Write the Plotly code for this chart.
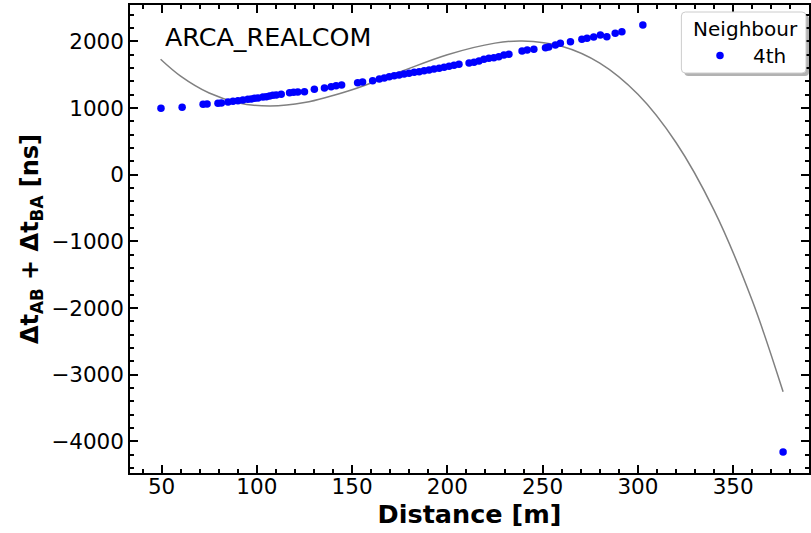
import plotly.graph_objects as go

# Data points (Distance [m], Δt_AB + Δt_BA [ns])
distance = [49.7, 60.8, 71.8, 73.9, 79.6, 81.4, 84.9, 87.5, 90.1, 92.7, 95.3, 97.1, 98.8,
            100.6, 103.2, 105.0, 106.7, 108.4, 110.2, 112.8, 117.2, 119.3, 121.5, 125.0,
            130.2, 135.5, 139.0, 141.6, 144.5, 152.9, 155.5, 160.8, 164.3, 166.9, 169.5,
            172.1, 174.7, 177.3, 179.9, 182.6, 185.2, 187.8, 190.4, 193.0, 195.7, 198.3,
            200.9, 203.5, 206.1, 211.4, 214.0, 216.6, 219.2, 221.8, 224.4, 227.0, 229.7,
            232.3, 239.2, 241.9, 245.4, 251.5, 253.2, 256.7, 259.3, 264.6, 270.6, 273.3,
            276.8, 280.3, 283.7, 288.1, 291.6, 302.6, 376.2]
delta_t = [996, 1011, 1056, 1061, 1071, 1076, 1091, 1101, 1110, 1121, 1131, 1136, 1146,
           1151, 1166, 1170, 1181, 1191, 1196, 1206, 1230, 1236, 1241, 1245,
           1281, 1301, 1320, 1335, 1346, 1380, 1391, 1410, 1436, 1451, 1470,
           1485, 1496, 1511, 1521, 1536, 1545, 1560, 1571, 1586, 1596, 1611,
           1626, 1641, 1656, 1676, 1686, 1706, 1731, 1746, 1755, 1770, 1796,
           1806, 1856, 1871, 1881, 1906, 1916, 1946, 1971, 1996, 2031, 2046,
           2066, 2096, 2071, 2122, 2146, 2246, -4161]

# Fit curve
fit_x = [49.5, 60, 75, 90, 106.7, 125, 150, 175, 200, 225, 239.3, 260, 280, 300, 320, 340, 360, 376.2]
fit_y = [1732, 1479, 1225, 1081, 1031, 1082, 1275, 1540, 1800, 1974, 2006, 1927, 1674, 1206, 483, -535, -1888, -3258]

x_tickvals = [50, 100, 150, 200, 250, 300, 350]
y_tickvals = [-4000, -3000, -2000, -1000, 0, 1000, 2000]

FONT = "DejaVu Sans"
W, H = 811, 533
ML, MR, MT, MB = 130, 0, 5, 60
PW, PH = W - ML - MR, H - MT - MB


def px(x):
    return (x - ML) / PW


def py(y):
    return (H - MB - y) / PH


def rounded_rect(x0, y0, x1, y1, r):
    # pixel coords -> paper path with rounded corners
    rx, ry = r / PW, r / PH
    X0, X1 = px(x0), px(x1)
    Y0, Y1 = py(y1), py(y0)  # bottom, top in paper
    return (f"M {X0+rx},{Y0} L {X1-rx},{Y0} Q {X1},{Y0} {X1},{Y0+ry} "
            f"L {X1},{Y1-ry} Q {X1},{Y1} {X1-rx},{Y1} L {X0+rx},{Y1} "
            f"Q {X0},{Y1} {X0},{Y1-ry} L {X0},{Y0+ry} Q {X0},{Y0} {X0+rx},{Y0} Z")


fig = go.Figure()
fig.add_trace(go.Scatter(x=fit_x, y=fit_y, mode="lines", line=dict(color="grey", width=1.5, shape="spline"),
                         showlegend=False, hoverinfo="skip"))
fig.add_trace(go.Scatter(x=distance, y=delta_t, mode="markers", name="4th\u00a0\u00a0",
                         marker=dict(color="#0000ff", size=7.5, line=dict(width=0))))

axis_common = dict(
    showline=True, linecolor="black", linewidth=1.5, mirror="ticks",
    ticks="inside", ticklen=8, tickwidth=2, tickcolor="black",
    showgrid=False, zeroline=False,
    tickfont=dict(family=FONT, size=21.5, color="black"),
)

fig.update_xaxes(range=[33.44, 389.8], tickvals=x_tickvals, ticklabelstandoff=-7,
                 minor=dict(ticks="inside", ticklen=4, tickwidth=1.5, dtick=10, tickcolor="black"),
                 title=dict(text="<b>Distance [m]</b>", font=dict(family=FONT, size=25.5, color="black"), standoff=5),
                 **axis_common)
fig.update_yaxes(range=[-4475.6, 2546.1], tickvals=y_tickvals,
                 minor=dict(ticks="inside", ticklen=4, tickwidth=1.5, dtick=200, tickcolor="black"),
                 title=dict(text="<b>Δt<sub>AB</sub> + Δt<sub>BA</sub> [ns]</b>",
                            font=dict(family=FONT, size=24, color="black"), standoff=6),
                 **axis_common)

fig.add_annotation(text="ARCA_REALCOM", xref="paper", yref="paper", x=px(163), y=py(37),
                   xanchor="left", yanchor="middle", showarrow=False,
                   font=dict(family=FONT, size=25.4, color="black"))

# legend frame with shadow and rounded corners (matplotlib style)
fig.add_shape(type="path", path=rounded_rect(686, 15, 811, 76, 4), xref="paper", yref="paper",
              fillcolor="rgba(0,0,0,0.3)", line=dict(width=0), layer="above")
fig.add_shape(type="path", path=rounded_rect(683, 12, 808, 73, 4), xref="paper", yref="paper",
              fillcolor="white", line=dict(color="#cccccc", width=1), layer="above")

fig.update_layout(
    width=W, height=H,
    margin=dict(l=ML, r=MR, t=MT, b=MB),
    plot_bgcolor="white", paper_bgcolor="white",
    font=dict(family=FONT, color="black"),
    legend=dict(title=dict(text="Neighbour", side="top center", font=dict(family=FONT, size=20)),
                font=dict(family=FONT, size=20),
                x=px(806), y=0.9893, xanchor="right", yanchor="top",
                bgcolor="rgba(0,0,0,0)", borderwidth=0, itemwidth=56),
)

fig.write_html("out.html")
